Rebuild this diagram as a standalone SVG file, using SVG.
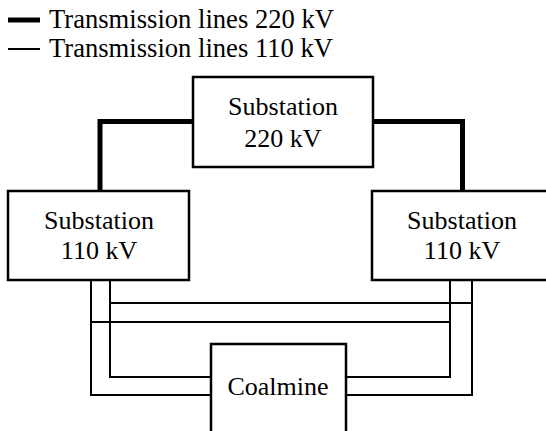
<svg xmlns="http://www.w3.org/2000/svg" width="546" height="431" viewBox="0 0 546 431">
<style>
.box{fill:#fff;stroke:#000;stroke-width:2.5}
.thin{fill:none;stroke:#000;stroke-width:2}
.thick{fill:none;stroke:#000;stroke-width:5}
.c{text-anchor:middle}
</style>
<rect width="546" height="431" fill="#fff"/>
<g id="legend">
<line class="thick" x1="8" y1="20" x2="40" y2="20"/>
<text x="49" y="28" font-family="Liberation Serif" font-size="26.6">Transmission lines 220 kV</text>
<line class="thin" x1="8" y1="49" x2="40" y2="49"/>
<text x="49" y="57" font-family="Liberation Serif" font-size="26.6">Transmission lines 110 kV</text>
</g>
<g id="connectors">
<path class="thick" d="M193 121.5H100V191"/>
<path class="thick" d="M373 121.5H462.5V191"/>
<path class="thin" d="M91 280V395H211"/>
<path class="thin" d="M110 280V377H211"/>
<path class="thin" d="M450 280V377H346"/>
<path class="thin" d="M472 280V395H346"/>
<path class="thin" d="M110 303H472"/>
<path class="thin" d="M91 322H450"/>
</g>
<g id="sub220">
<rect class="box" x="193" y="77" width="180" height="90"/>
<text class="c" x="283" y="115" font-family="Liberation Serif" font-size="26">Substation</text>
<text class="c" x="283" y="147" font-family="Liberation Serif" font-size="26">220 kV</text>
</g>
<g id="sub110left">
<rect class="box" x="8" y="191" width="181" height="89"/>
<text class="c" x="99" y="229" font-family="Liberation Serif" font-size="26">Substation</text>
<text class="c" x="99" y="259" font-family="Liberation Serif" font-size="26">110 kV</text>
</g>
<g id="sub110right">
<rect class="box" x="372" y="191" width="184" height="89"/>
<text class="c" x="462" y="229" font-family="Liberation Serif" font-size="26">Substation</text>
<text class="c" x="462" y="259" font-family="Liberation Serif" font-size="26">110 kV</text>
</g>
<g id="coalmine">
<rect class="box" x="211" y="344" width="135" height="100"/>
<text class="c" x="278" y="395" font-family="Liberation Serif" font-size="26">Coalmine</text>
</g>
</svg>
